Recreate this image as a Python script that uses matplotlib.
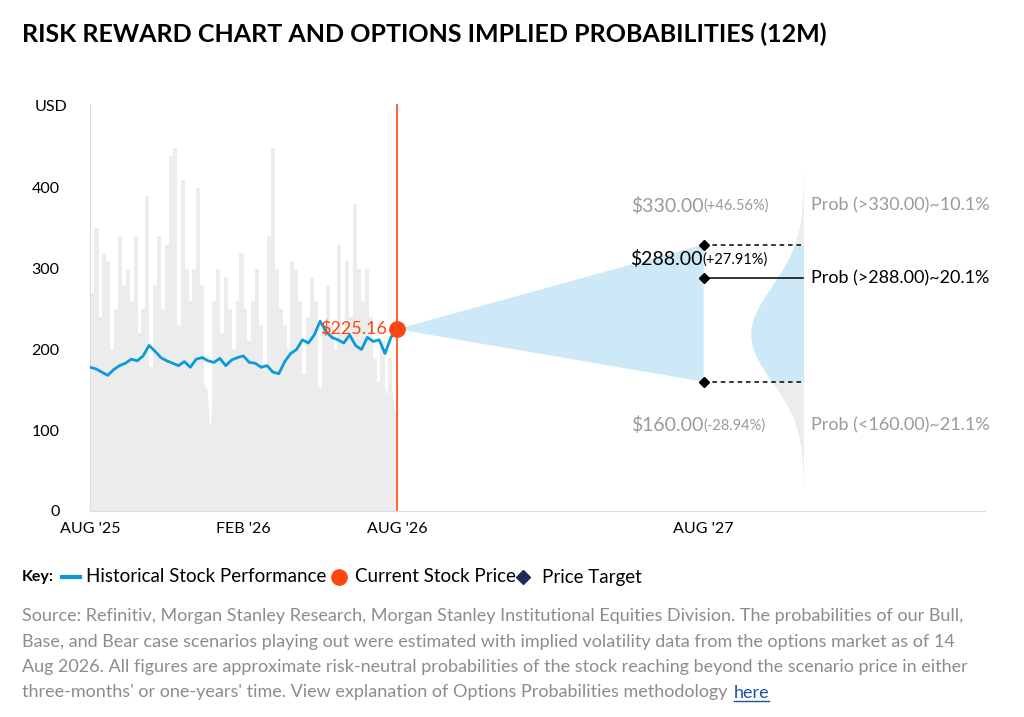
import numpy as np
import matplotlib.pyplot as plt

plt.rcParams["font.family"] = ["Lato", "DejaVu Sans"]

# ----------------------------------------------------
# Data
# ----------------------------------------------------
price = [178, 176, 172, 168, 175, 180, 183, 188, 186, 192, 205, 198, 190, 186, 183, 180,
         185, 178, 188, 190, 186, 184, 189, 180, 187, 190, 192, 184, 183, 178, 180, 172,
         170, 185, 195, 200, 212, 208, 218, 235, 222, 215, 212, 208, 218, 205, 200, 215,
         210, 212, 195, 215, 225.16]
volume = [270, 350, 240, 320, 310, 200, 250, 340, 280, 300, 260, 340, 220, 250, 390, 180,
          280, 340, 250, 330, 440, 450, 230, 410, 300, 260, 300, 400, 280, 150, 90, 260,
          300, 220, 290, 250, 200, 260, 320, 250, 210, 260, 300, 230, 180, 340, 450, 300,
          250, 230, 200, 310, 300, 260, 170, 240, 290, 260, 150, 230, 280, 230, 200, 330,
          220, 310, 240, 380, 300, 260, 300, 240, 190, 160, 210, 140, 190, 120]
current_price = 225.16
targets = [330.0, 288.0, 160.0]
target_pct = ["+46.56%", "+27.91%", "-28.94%"]
probs = ["Prob (>330.00)~10.1%", "Prob (>288.00)~20.1%", "Prob (<160.00)~21.1%"]
xtick_pos = [0, 6, 12, 24]
xtick_labels = ["AUG '25", "FEB '26", "AUG '26", "AUG '27"]

BLUE = "#0a9bd8"
RED = "#ff4512"
LIGHT = "#cde9f7"
GRAY = "#9a9a9a"

fig = plt.figure(figsize=(10.24, 7.17), dpi=100)
ax = fig.add_axes([90 / 1024, 1 - 511 / 717, 895 / 1024, (511 - 104) / 717])
ax.set_xlim(0, 35)
ax.set_ylim(0, 504)

# volume bars
vx = np.linspace(0.1, 11.9, len(volume))
ax.bar(vx, volume, width=0.16, color="#ececec", zorder=1)
ax.fill_between(vx, 0, np.minimum(volume, 160), color="#ececec", zorder=1)

# price line
px = np.linspace(0, 12, len(price))
ax.plot(px, price, color=BLUE, lw=2, zorder=3)
ax.axvline(12, color=RED, lw=1.2, zorder=2)
ax.plot(12, current_price, "o", color=RED, ms=11, zorder=5)
ax.text(11.6, current_price, f"${current_price:.2f}", color=RED, fontsize=13,
        ha="right", va="center", zorder=6)

# cone
ax.fill([12, 24, 24], [current_price, targets[0], targets[2]], color=LIGHT, lw=0, zorder=2)

# implied distribution
base = 27.9
ys = np.linspace(25, 425, 300)
mu, sd = 205, 60
dens = 2.0 * np.exp(-0.5 * ((ys - mu) / sd) ** 2) * (1 + 0.25 * (ys - mu) / sd)
dens = np.clip(dens, 0, None)
ax.fill_betweenx(ys, base - dens, base, color="#ececec", lw=0, zorder=1)
m = (ys >= targets[2]) & (ys <= targets[0])
ax.fill_betweenx(ys[m], base - dens[m], base, color=LIGHT, lw=0, zorder=2)

for i, t in enumerate(targets):
    ls = "-" if i == 1 else (0, (3, 2.5))
    ax.plot([24, base], [t, t], color="black", lw=1.1, ls=ls, zorder=4)
    ax.plot(24, t, "D", color="black", ms=5, zorder=5)

ax.text(24, targets[0] + 48, f"${targets[0]:.2f}", color=GRAY, fontsize=14, ha="right", va="center")
ax.text(24, targets[0] + 48, f"({target_pct[0]})", color=GRAY, fontsize=10.5, ha="left", va="center")
ax.text(23.95, targets[1] + 24, f"${targets[1]:.2f}", color="black", fontsize=14, ha="right", va="center")
ax.text(23.95, targets[1] + 24, f"({target_pct[1]})", color="black", fontsize=10.5, ha="left", va="center")
ax.text(24, targets[2] - 54, f"${targets[2]:.2f}", color=GRAY, fontsize=14, ha="right", va="center")
ax.text(24, targets[2] - 54, f"({target_pct[2]})", color=GRAY, fontsize=10.5, ha="left", va="center")

ax.text(base + 0.3, targets[0] + 48, probs[0], color=GRAY, fontsize=13, va="center")
ax.text(base + 0.3, targets[1], probs[1], color="black", fontsize=13, va="center")
ax.text(base + 0.3, targets[2] - 54, probs[2], color=GRAY, fontsize=13, va="center")

# axes styling
for s in ["top", "right"]:
    ax.spines[s].set_visible(False)
ax.spines["left"].set_color("#d5deef")
ax.spines["bottom"].set_color("#d5deef")
ax.set_yticks([0, 100, 200, 300, 400])
ax.tick_params(axis="y", length=0, labelsize=11.5, pad=22)
ax.set_xticks(xtick_pos)
ax.set_xticklabels(xtick_labels)
ax.tick_params(axis="x", length=0, labelsize=11.5, pad=8)
ax.text(-0.9, 500, "USD", fontsize=11.5, ha="right", va="center")

fig.text(22 / 1024, 1 - 34 / 717, "RISK REWARD CHART AND OPTIONS IMPLIED PROBABILITIES (12M)",
         fontsize=18, fontweight="bold", va="center")

# key
ky = 1 - 577 / 717
fig.text(22 / 1024, ky, "Key:", fontsize=11.5, fontweight="bold", va="center")
fig.add_artist(plt.Line2D([62 / 1024, 80 / 1024], [ky, ky], color=BLUE, lw=3))
fig.text(86 / 1024, ky, "Historical Stock Performance", fontsize=13.5, va="center")
fig.add_artist(plt.Line2D([339 / 1024], [ky], marker="o", color=RED, ms=11))
fig.text(355 / 1024, ky, "Current Stock Price", fontsize=13.5, va="center")
fig.add_artist(plt.Line2D([523 / 1024], [ky], marker="D", color="#1f2a55", ms=7))
fig.text(542 / 1024, ky, "Price Target", fontsize=13.5, va="center")

src_lines = [
    "Source: Refinitiv, Morgan Stanley Research, Morgan Stanley Institutional Equities Division. The probabilities of our Bull,",
    "Base, and Bear case scenarios playing out were estimated with implied volatility data from the options market as of 14",
    "Aug 2026. All figures are approximate risk-neutral probabilities of the stock reaching beyond the scenario price in either",
    "three-months' or one-years' time. View explanation of Options Probabilities methodology",
]
last = None
for i, line in enumerate(src_lines):
    last = fig.text(22 / 1024, 1 - (616 + 25.5 * i) / 717, line, fontsize=13, color="#8c8c8c", va="center")

fig.canvas.draw()
bb = last.get_window_extent().transformed(fig.transFigure.inverted())
hx = bb.x1 + 6 / 1024
here = fig.text(hx, 1 - 692.5 / 717, "here", fontsize=13, color="#1f4fa8", va="center")
fig.canvas.draw()
hb = here.get_window_extent().transformed(fig.transFigure.inverted())
fig.add_artist(plt.Line2D([hb.x0, hb.x1], [1 - 701 / 717] * 2, color="#1f4fa8", lw=1))

fig.savefig("out.png", dpi=100)
